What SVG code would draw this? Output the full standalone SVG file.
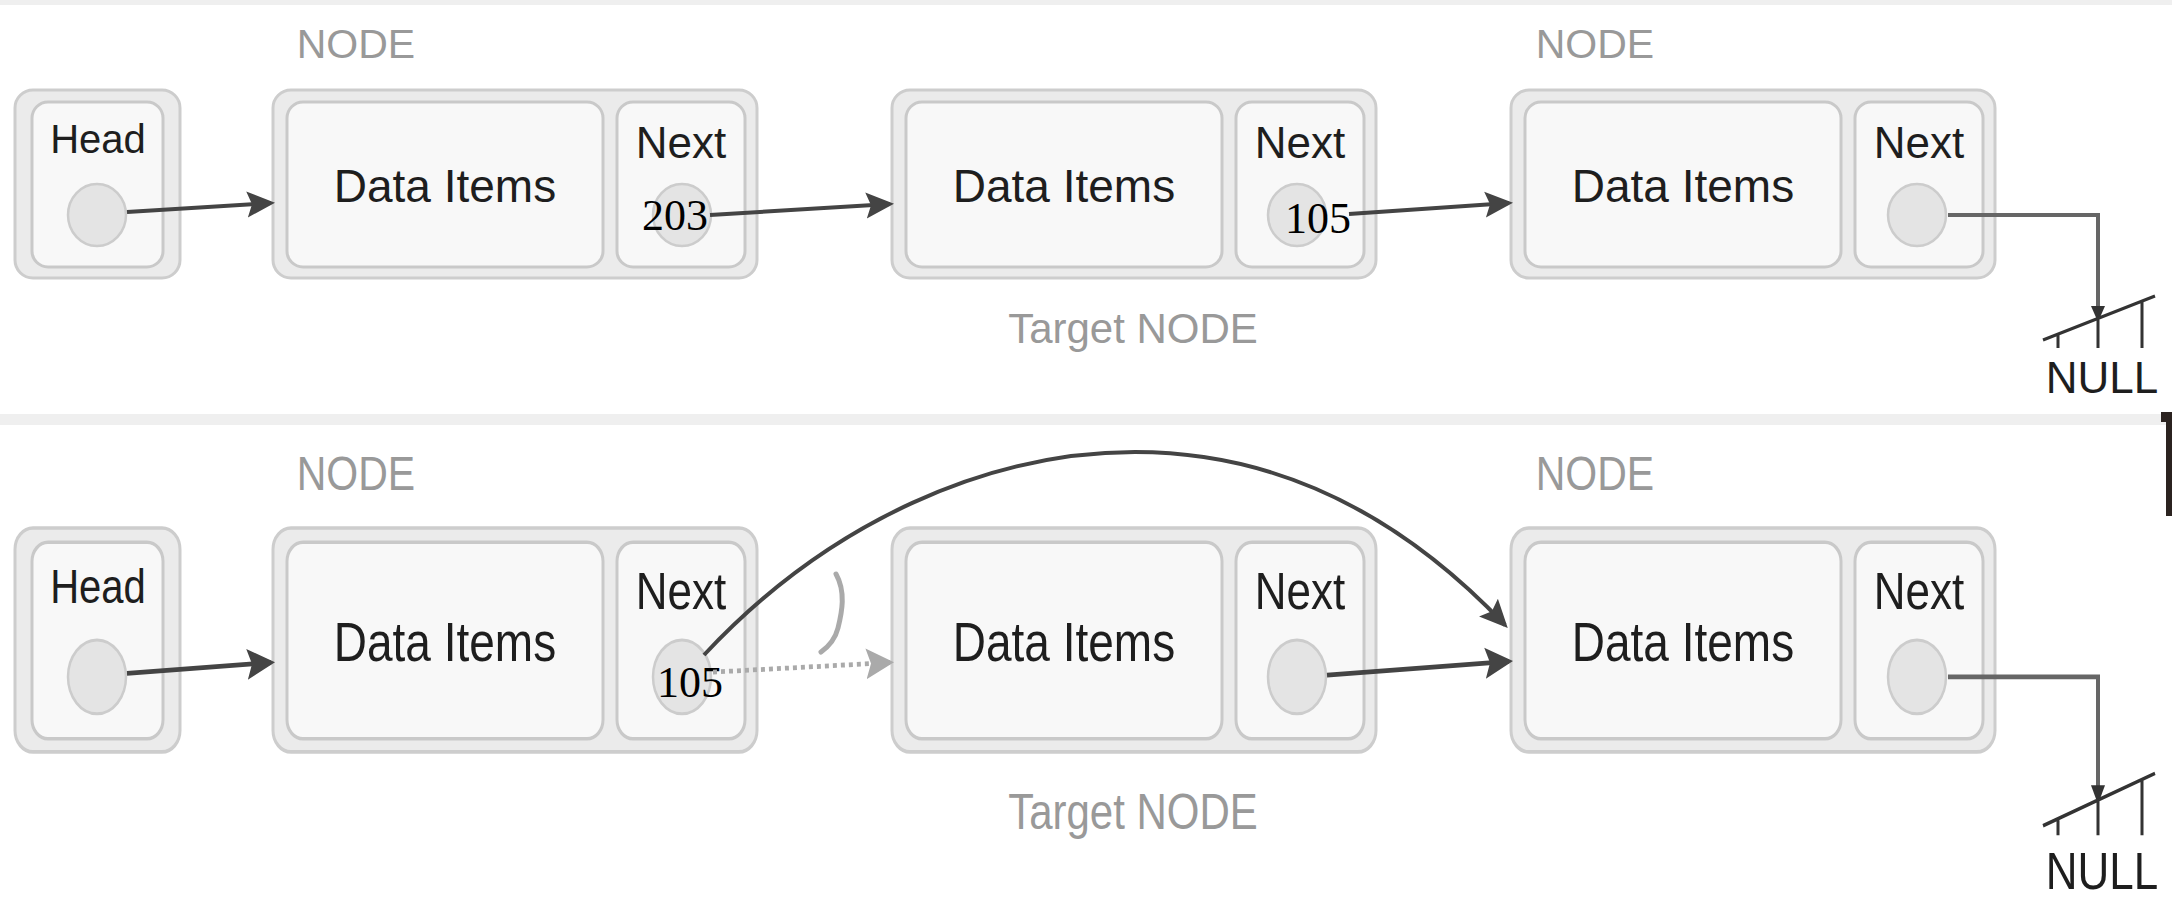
<svg xmlns="http://www.w3.org/2000/svg" width="2172" height="910" viewBox="0 0 2172 910">
<style>
.outer{fill:#ebebeb;stroke:#cdcdcd;stroke-width:3}
.inner{fill:#f8f8f8;stroke:#c9c9c9;stroke-width:3}
.ptr{fill:#e4e4e4;stroke:#cccccc;stroke-width:2.5}
.lbl{font-family:"Liberation Sans",Arial,sans-serif;fill:#1e1e1e;text-anchor:middle}
.cap{font-family:"Liberation Sans",Arial,sans-serif;fill:#999;text-anchor:middle}
.num{font-family:"Liberation Serif","Times New Roman",serif;font-size:44px;fill:#000}
.link{fill:none;stroke:#444;stroke-width:4}
.dot{fill:none;stroke:#aaa;stroke-width:4;stroke-dasharray:4 4}
.nil{fill:none;stroke:#666;stroke-width:4}
.gnd{fill:none;stroke:#333;stroke-width:3}
</style>
<defs>
<marker id="ah" markerUnits="userSpaceOnUse" viewBox="0 0 28 28" markerWidth="28" markerHeight="28" refX="24" refY="14" orient="auto"><path d="M0,1 L28,14 L0,27 L5,14 z" fill="#444"/></marker>
<marker id="ahg" markerUnits="userSpaceOnUse" viewBox="0 0 28 28" markerWidth="28" markerHeight="28" refX="24" refY="14" orient="auto"><path d="M0,1 L28,14 L0,27 L5,14 z" fill="#aaa"/></marker>
<marker id="ahs" markerUnits="userSpaceOnUse" viewBox="0 0 16 16" markerWidth="16" markerHeight="16" refX="12" refY="8" orient="auto"><path d="M0,1 L16,8 L0,15 z" fill="#333"/></marker>
</defs>
<rect x="0" y="0" width="2172" height="910" fill="#ffffff"/>
<rect x="0" y="0" width="2172" height="5" fill="#efefef"/>
<rect x="0" y="414" width="2172" height="11" fill="#efefef"/>
<rect x="2161" y="412" width="11" height="10" fill="#2b2320"/>
<rect x="2166" y="412" width="6" height="104" fill="#2b2320"/>

<!-- Top row -->
<g id="head-top">
<rect class="outer" x="15" y="90" width="165" height="188" rx="18"/>
<rect class="inner" x="32" y="102" width="131" height="165" rx="16"/>
<text class="lbl" x="98" y="153" font-size="40">Head</text>
<ellipse class="ptr" cx="97" cy="215" rx="29" ry="31"/>
</g>
<g id="node1-top">
<text class="cap" x="356" y="58" font-size="41">NODE</text>
<rect class="outer" x="273" y="90" width="484" height="188" rx="18"/>
<rect class="inner" x="287" y="102" width="316" height="165" rx="16"/>
<rect class="inner" x="617" y="102" width="128" height="165" rx="16"/>
<text class="lbl" x="445" y="202" font-size="46">Data Items</text>
<text class="lbl" x="681" y="158" font-size="44">Next</text>
<ellipse class="ptr" cx="682" cy="215" rx="29" ry="31"/>
<text class="num" x="642" y="230">203</text>
</g>
<g id="node2-top">
<rect class="outer" x="892" y="90" width="484" height="188" rx="18"/>
<rect class="inner" x="906" y="102" width="316" height="165" rx="16"/>
<rect class="inner" x="1236" y="102" width="128" height="165" rx="16"/>
<text class="lbl" x="1064" y="202" font-size="46">Data Items</text>
<text class="lbl" x="1300" y="158" font-size="44">Next</text>
<ellipse class="ptr" cx="1297" cy="215" rx="29" ry="31"/>
<text class="cap" x="1133" y="343" font-size="42">Target NODE</text>
<text class="num" x="1285" y="233">105</text>
</g>
<g id="node3-top">
<text class="cap" x="1595" y="58" font-size="41">NODE</text>
<rect class="outer" x="1511" y="90" width="484" height="188" rx="18"/>
<rect class="inner" x="1525" y="102" width="316" height="165" rx="16"/>
<rect class="inner" x="1855" y="102" width="128" height="165" rx="16"/>
<text class="lbl" x="1683" y="202" font-size="46">Data Items</text>
<text class="lbl" x="1919" y="158" font-size="44">Next</text>
<ellipse class="ptr" cx="1917" cy="215" rx="29" ry="31"/>
</g>
<g id="null-top">
<path class="gnd" d="M2043 340 L2155 296 M2058 334 V348 M2098 318 V348 M2142 301 V348"/>
<text class="lbl" x="2102" y="393" font-size="44" fill="#333">NULL</text>
</g>

<!-- Bottom row (vertically stretched) -->
<g id="row-bottom" transform="translate(0 420.8) scale(1 1.191)">
<g id="head-bottom">
<rect class="outer" x="15" y="90" width="165" height="188" rx="18"/>
<rect class="inner" x="32" y="102" width="131" height="165" rx="16"/>
<text class="lbl" x="98" y="153" font-size="40">Head</text>
<ellipse class="ptr" cx="97" cy="215" rx="29" ry="31"/>
</g>
<g id="node1-bottom">
<text class="cap" x="356" y="58" font-size="41">NODE</text>
<rect class="outer" x="273" y="90" width="484" height="188" rx="18"/>
<rect class="inner" x="287" y="102" width="316" height="165" rx="16"/>
<rect class="inner" x="617" y="102" width="128" height="165" rx="16"/>
<text class="lbl" x="445" y="202" font-size="46">Data Items</text>
<text class="lbl" x="681" y="158" font-size="44">Next</text>
<ellipse class="ptr" cx="682" cy="215" rx="29" ry="31"/>
</g>
<g id="node2-bottom">
<rect class="outer" x="892" y="90" width="484" height="188" rx="18"/>
<rect class="inner" x="906" y="102" width="316" height="165" rx="16"/>
<rect class="inner" x="1236" y="102" width="128" height="165" rx="16"/>
<text class="lbl" x="1064" y="202" font-size="46">Data Items</text>
<text class="lbl" x="1300" y="158" font-size="44">Next</text>
<ellipse class="ptr" cx="1297" cy="215" rx="29" ry="31"/>
<text class="cap" x="1133" y="343" font-size="42">Target NODE</text>
</g>
<g id="node3-bottom">
<text class="cap" x="1595" y="58" font-size="41">NODE</text>
<rect class="outer" x="1511" y="90" width="484" height="188" rx="18"/>
<rect class="inner" x="1525" y="102" width="316" height="165" rx="16"/>
<rect class="inner" x="1855" y="102" width="128" height="165" rx="16"/>
<text class="lbl" x="1683" y="202" font-size="46">Data Items</text>
<text class="lbl" x="1919" y="158" font-size="44">Next</text>
<ellipse class="ptr" cx="1917" cy="215" rx="29" ry="31"/>
</g>
<g id="null-bottom">
<path class="gnd" d="M2043 340 L2155 296 M2058 334 V348 M2098 318 V348 M2142 301 V348"/>
<text class="lbl" x="2102" y="393" font-size="44" fill="#333">NULL</text>
</g>
</g>
<text id="label-105-bottom" class="num" x="657" y="697">105</text>

<!-- Connectors -->
<g id="connectors">
<path class="link" d="M127 212 L271 203" marker-end="url(#ah)"/>
<path class="link" d="M710 215 L890 204" marker-end="url(#ah)"/>
<path class="link" d="M1349 214 L1509 203" marker-end="url(#ah)"/>
<path class="nil" d="M1948 215 H2098 V318" marker-end="url(#ahs)"/>
<g transform="translate(0 420.8) scale(1 1.191)">
<path class="link" d="M127 212 L271 203" marker-end="url(#ah)"/>
<path class="dot" d="M713 211 L890 203" marker-end="url(#ahg)"/>
<path class="link" d="M1327 213.5 L1509 202" marker-end="url(#ah)"/>
<path class="nil" d="M1948 215 H2098 V318" marker-end="url(#ahs)"/>
</g>
<path class="link" d="M704 655 C830 520 990 452 1135 452 C1290 452 1410 525 1505 625" marker-end="url(#ah)"/>
<path d="M836 574 C846 592 842 612 838 628 C835 640 828 647 821 652" fill="none" stroke="#aaa" stroke-width="5" stroke-linecap="round"/>
</g>
</svg>
